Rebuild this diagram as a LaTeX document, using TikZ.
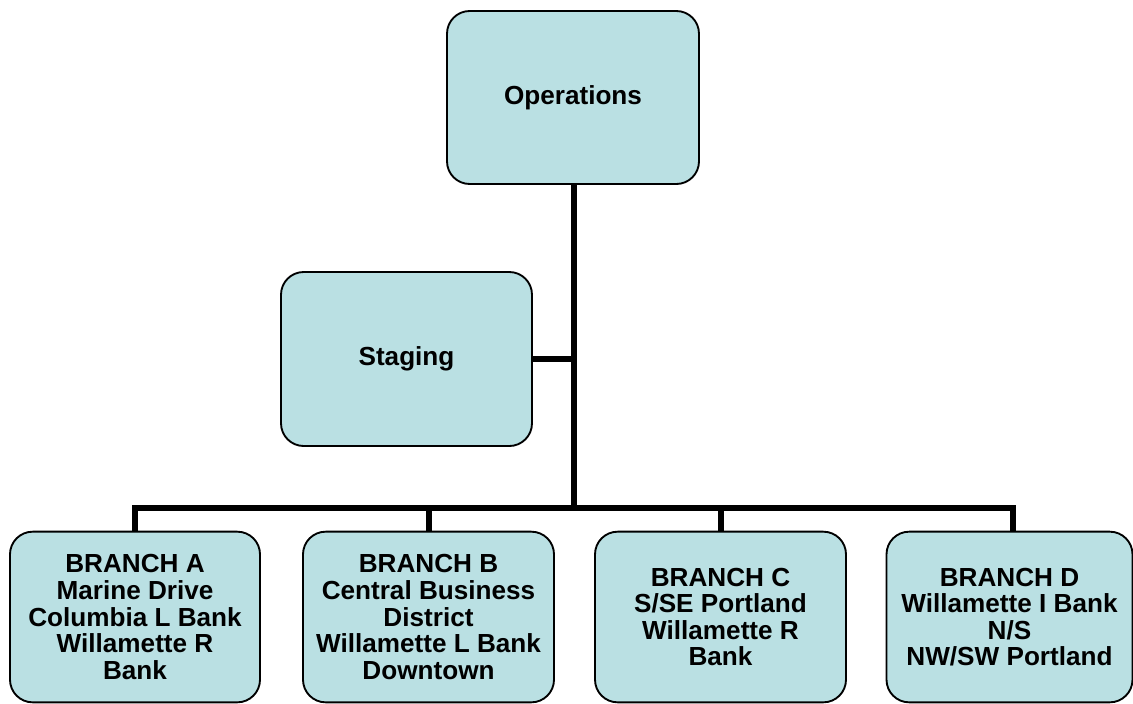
\documentclass[tikz,border=0pt]{standalone}
\usepackage{fontspec}
\setmainfont{Liberation Sans}
\definecolor{boxfill}{RGB}{186,224,227}
\begin{document}
\begin{tikzpicture}[x=0.75pt,y=-0.75pt,
  orgbox/.style={draw=black, line width=1.4pt, fill=boxfill, rounded corners=17pt,
    align=center, inner sep=0pt, minimum height=128pt,
    font=\bfseries\fontsize{19.6}{19.9}\selectfont},
  conn/.style={draw=black, line width=4.5pt, line join=miter}]
\useasboundingbox (0,0) rectangle (1133,704);
\node[orgbox, minimum width=189pt, minimum height=129.75pt] (ops) at (573,97.5) {Operations};
\node[orgbox, minimum width=188.25pt, minimum height=130.5pt] (stg) at (406.5,359) {Staging};
\node[orgbox, minimum width=187.5pt] (A) at (135,617) {BRANCH A\\Marine Drive\\Columbia L Bank\\Willamette R\\Bank};
\node[orgbox, minimum width=188.25pt] (B) at (428.5,617) {BRANCH B\\Central Business\\District\\Willamette L Bank\\Downtown};
\node[orgbox, minimum width=188.25pt] (C) at (720.5,617) {BRANCH C\\S/SE Portland\\Willamette R\\Bank};
\node[orgbox, minimum width=184.5pt] (D) at (1009.5,617) {BRANCH D\\Willamette I Bank\\N/S\\NW/SW Portland};
\coordinate (hub) at (574,508);
\coordinate (sj) at (574,359);
\coordinate (dtop) at (1013,532);
\draw[conn] (ops.south -| hub) -- (hub);
\draw[conn] (stg.east) -- (sj);
\draw[conn] (A.north) -- (A.north |- hub) -- (dtop |- hub) -- (dtop);
\draw[conn] (B.north) -- (B.north |- hub);
\draw[conn] (C.north) -- (C.north |- hub);
\end{tikzpicture}
\end{document}
